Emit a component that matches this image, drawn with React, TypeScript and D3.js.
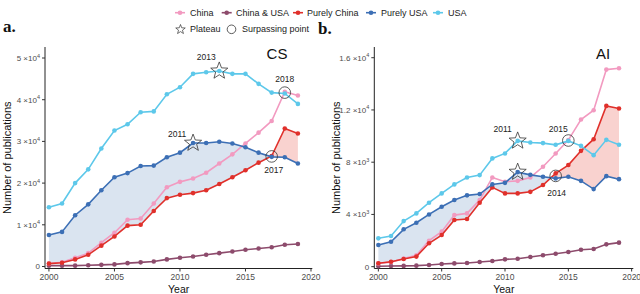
import * as d3 from "d3";

// publication counts per year
const years = [2000, 2001, 2002, 2003, 2004, 2005, 2006, 2007, 2008, 2009, 2010, 2011, 2012, 2013, 2014, 2015, 2016, 2017, 2018, 2019];

const csUSA = [14200, 15100, 20000, 23300, 28300, 32600, 34100, 37000, 37200, 41300, 43000, 46200, 46600, 46900, 46200, 46200, 43800, 41700, 41500, 39000];
const csPurelyUSA = [7550, 8300, 12300, 14900, 18300, 21400, 22400, 24100, 24200, 26200, 27300, 29600, 29600, 29900, 29500, 28600, 27300, 26300, 26200, 24700];
const csChina = [700, 1000, 2100, 3200, 5700, 8100, 11200, 11500, 15100, 19000, 20300, 21100, 22500, 24700, 26900, 29500, 32100, 34900, 41900, 41000];
const csPurelyChina = [700, 900, 1700, 2800, 5000, 7200, 9800, 10000, 13300, 16400, 17200, 17600, 18300, 19800, 21400, 23100, 24900, 26500, 33100, 31900];
const csChinaUSA = [200, 200, 200, 300, 400, 500, 800, 1000, 1200, 1700, 2100, 2400, 2800, 3200, 3600, 4000, 4300, 4600, 5200, 5400];

const aiUSA = [2170, 2350, 3490, 4080, 4900, 5610, 6300, 6830, 7010, 8290, 8670, 9630, 9510, 9460, 9330, 9630, 9250, 8540, 9710, 9330];
const aiPurelyUSA = [1660, 1910, 2860, 3360, 4000, 4590, 5100, 5460, 5560, 6300, 6420, 7240, 7030, 6880, 6760, 6880, 6570, 5940, 6930, 6700];
const aiChina = [250, 350, 620, 870, 1990, 2680, 3950, 4080, 5100, 6830, 6500, 6570, 6830, 7650, 8670, 9690, 11270, 11980, 15090, 15190];
const aiPurelyChina = [260, 380, 590, 770, 1790, 2420, 3570, 3650, 4890, 6070, 5610, 5610, 5730, 6250, 7140, 7780, 8870, 9760, 12310, 12110];
const aiChinaUSA = [30, 50, 60, 80, 130, 200, 250, 280, 360, 430, 560, 610, 740, 870, 990, 1120, 1300, 1350, 1710, 1840];

const xTicks = [2000, 2005, 2010, 2015, 2020];

const csTicks = [0, 10000, 20000, 30000, 40000, 50000];
const csTickMant = ["0", "1", "2", "3", "4", "5"];
const csTickExp = ["", "4", "4", "4", "4", "4"];

const aiTicks = [0, 4000, 8000, 12000, 16000];
const aiTickMant = ["0", "4", "8", "1.2", "1.6"];
const aiTickExp = ["", "3", "3", "4", "4"];

const legendNames = ["China", "China & USA", "Purely China", "Purely USA", "USA"];

// plateau stars / surpassing circles
const csPlateaus = [
  { year: 2013, series: "usa", label: "2013" },
  { year: 2011, series: "purelyUSA", label: "2011" },
];
const csSurpass = [
  { year: 2018, a: "usa", b: "china", label: "2018" },
  { year: 2017, a: "purelyUSA", b: "purelyChina", label: "2017" },
];
const aiPlateaus = [
  { year: 2011, series: "usa", label: "2011" },
  { year: 2011, series: "purelyUSA", label: "" },
];
const aiSurpass = [
  { year: 2015, a: "usa", b: "china", label: "2015" },
  { year: 2014, a: "purelyUSA", b: "purelyChina", label: "2014" },
];

const colors = {
  china: "#f29ac0",
  chinaUSA: "#8d4b6c",
  purelyChina: "#e0302b",
  purelyUSA: "#3c6fb5",
  usa: "#5dc8ea",
};
const legendColors = [colors.china, colors.chinaUSA, colors.purelyChina, colors.purelyUSA, colors.usa];

const font = "'Liberation Sans', Arial, sans-serif";

function starPath(cx, cy, R, r) {
  const pts = [];
  for (let i = 0; i < 10; i++) {
    const rad = i % 2 === 0 ? R : r;
    const a = -Math.PI / 2 + (i * Math.PI) / 5;
    pts.push([cx + rad * Math.cos(a), cy + rad * Math.sin(a)]);
  }
  return "M" + pts.map((p) => p.join(",")).join("L") + "Z";
}

// split the band between two series into regions by which one is on top
function bandRegions(xs, a, b) {
  const regions = [];
  let cur = { sign: Math.sign(a[0] - b[0]) || 1, pts: [[xs[0], a[0], b[0]]] };
  for (let i = 1; i < xs.length; i++) {
    const d0 = a[i - 1] - b[i - 1];
    const d1 = a[i] - b[i];
    if (d0 * d1 < 0) {
      const t = d0 / (d0 - d1);
      const xc = xs[i - 1] + t * (xs[i] - xs[i - 1]);
      const yc = a[i - 1] + t * (a[i] - a[i - 1]);
      cur.pts.push([xc, yc, yc]);
      regions.push(cur);
      cur = { sign: Math.sign(d1), pts: [[xc, yc, yc]] };
    }
    cur.pts.push([xs[i], a[i], b[i]]);
  }
  regions.push(cur);
  return regions;
}

function Panel({ series, xDomain, xRange, yDomain, ticks, tickMant, tickExp, title, titleX, plateaus, surpass, labelOffsets }) {
  const top = 47;
  const bottom = 268.5;
  const x = d3.scaleLinear().domain(xDomain).range(xRange);
  const y = d3.scaleLinear().domain(yDomain).range([bottom, top]);
  const axisX = xRange[0];

  const line = d3
    .line()
    .x((d, i) => x(years[i]))
    .y((d) => y(d));

  const area = d3
    .area()
    .x((p) => x(p[0]))
    .y0((p) => y(p[2]))
    .y1((p) => y(p[1]));

  const regions = bandRegions(years, series.purelyUSA, series.purelyChina);
  const order = ["chinaUSA", "china", "purelyChina", "purelyUSA", "usa"];

  return (
    <g>
      {regions.map((r, i) => (
        <path key={"f" + i} d={area(r.pts)} fill={r.sign > 0 ? "#dae4f0" : "#f9d2cf"} />
      ))}

      {/* axes */}
      <line x1={axisX} x2={axisX} y1={top} y2={bottom} stroke="#222" strokeWidth={1} />
      <line x1={axisX} x2={xRange[1]} y1={bottom} y2={bottom} stroke="#222" strokeWidth={1} />
      {ticks.map((t, i) => (
        <g key={"yt" + i}>
          <line x1={axisX - 3} x2={axisX} y1={y(t)} y2={y(t)} stroke="#333" />
          <text x={axisX - 5} y={y(t) + 3} textAnchor="end" fontSize={8} fill="#4d4d4d" fontFamily={font}>
            {tickMant[i]}
            {tickExp[i] ? <tspan> ×10</tspan> : null}
            {tickExp[i] ? (
              <tspan dy={-3.5} fontSize={5.5}>
                {tickExp[i]}
              </tspan>
            ) : null}
          </text>
        </g>
      ))}
      {xTicks.map((t) => (
        <g key={"xt" + t}>
          <line x1={x(t)} x2={x(t)} y1={bottom} y2={bottom + 3} stroke="#333" />
          <text x={x(t)} y={bottom + 11.5} textAnchor="middle" fontSize={8.5} fill="#4d4d4d" fontFamily={font}>
            {t}
          </text>
        </g>
      ))}
      <text x={(xRange[0] + xRange[1]) / 2} y={292.5} textAnchor="middle" fontSize={10.5} fill="#111" fontFamily={font}>
        Year
      </text>
      <text
        transform={`translate(${axisX - 34},${(top + bottom) / 2}) rotate(-90)`}
        textAnchor="middle"
        fontSize={11}
        fill="#111"
        fontFamily={font}
      >
        Number of publications
      </text>

      {order.map((k) => (
        <g key={k}>
          <path d={line(series[k])} fill="none" stroke={colors[k]} strokeWidth={1.6} />
          {series[k].map((v, i) => (
            <circle key={i} cx={x(years[i])} cy={y(v)} r={2.3} fill={colors[k]} />
          ))}
        </g>
      ))}

      {plateaus.map((p, i) => {
        const v = series[p.series][years.indexOf(p.year)];
        const cx = x(p.year);
        const cy = y(v);
        const off = labelOffsets.plateau[i];
        return (
          <g key={"p" + i}>
            <path d={starPath(cx, cy, 9, 3.8)} fill="none" stroke="#333" strokeWidth={0.8} />
            {p.label ? (
              <text x={cx + off[0]} y={cy + off[1]} textAnchor="middle" dominantBaseline="central" fontSize={8.5} fill="#222" fontFamily={font}>
                {p.label}
              </text>
            ) : null}
          </g>
        );
      })}
      {surpass.map((s, i) => {
        const idx = years.indexOf(s.year);
        const v = (series[s.a][idx] + series[s.b][idx]) / 2;
        const cx = x(s.year);
        const cy = y(v);
        const off = labelOffsets.surpass[i];
        return (
          <g key={"s" + i}>
            <circle cx={cx} cy={cy} r={5.8} fill="none" stroke="#333" strokeWidth={0.8} />
            <text x={cx + off[0]} y={cy + off[1]} textAnchor="middle" dominantBaseline="central" fontSize={8.5} fill="#222" fontFamily={font}>
              {s.label}
            </text>
          </g>
        );
      })}

      <text x={titleX} y={53.5} textAnchor="middle" dominantBaseline="central" fontSize={15} fill="#111" fontFamily={font}>
        {title}
      </text>
    </g>
  );
}

export default function App() {
  const legendMarkX = [180, 226.7, 298, 371, 438];
  const legendTextX = [190, 236, 307, 381, 448];

  return (
    <svg width={640} height={294} style={{ position: "fixed", left: 0, top: 0, background: "#fff" }}>
      <rect width={640} height={294} fill="#fff" />
      {/* legend */}
      {legendNames.map((n, i) => (
        <g key={n}>
          <line x1={legendMarkX[i] - 5} x2={legendMarkX[i] + 5} y1={12.7} y2={12.7} stroke={legendColors[i]} strokeWidth={1.6} />
          <circle cx={legendMarkX[i]} cy={12.7} r={2.3} fill={legendColors[i]} />
          <text x={legendTextX[i]} y={12.7} dominantBaseline="central" fontSize={9} fill="#222" fontFamily={font}>
            {n}
          </text>
        </g>
      ))}
      <path d={starPath(180.5, 29.5, 5, 2.1)} fill="none" stroke="#333" strokeWidth={0.7} />
      <text x={190} y={29.3} dominantBaseline="central" fontSize={9} fill="#222" fontFamily={font}>
        Plateau
      </text>
      <circle cx={231.5} cy={29.3} r={4.3} fill="none" stroke="#333" strokeWidth={0.8} />
      <text x={242} y={29.3} dominantBaseline="central" fontSize={9} fill="#222" fontFamily={font}>
        Surpassing point
      </text>

      <text x={3} y={32} fontSize={17} fontWeight="bold" fill="#111" fontFamily="'Liberation Serif', 'DejaVu Serif', serif">
        a.
      </text>
      <text x={318} y={34} fontSize={17} fontWeight="bold" fill="#111" fontFamily="'Liberation Serif', 'DejaVu Serif', serif">
        b.
      </text>

      <Panel
        series={{ usa: csUSA, purelyUSA: csPurelyUSA, china: csChina, purelyChina: csPurelyChina, chinaUSA: csChinaUSA }}
        xDomain={[1999.7, 2020.1]}
        xRange={[45, 312.3]}
        yDomain={[-480, 52640]}
        ticks={csTicks}
        tickMant={csTickMant}
        tickExp={csTickExp}
        title="CS"
        titleX={277}
        plateaus={csPlateaus}
        surpass={csSurpass}
        labelOffsets={{ plateau: [[-13, -14], [-16, -9]], surpass: [[0, -14], [2, 14]] }}
      />
      <Panel
        series={{ usa: aiUSA, purelyUSA: aiPurelyUSA, china: aiChina, purelyChina: aiPurelyChina, chinaUSA: aiChinaUSA }}
        xDomain={[1999.68, 2020.13]}
        xRange={[374.3, 633.3]}
        yDomain={[-140, 16820]}
        ticks={aiTicks}
        tickMant={aiTickMant}
        tickExp={aiTickExp}
        title="AI"
        titleX={603}
        plateaus={aiPlateaus}
        surpass={aiSurpass}
        labelOffsets={{ plateau: [[-15, -12], [0, 0]], surpass: [[-10, -12], [1, 17]] }}
      />
    </svg>
  );
}
